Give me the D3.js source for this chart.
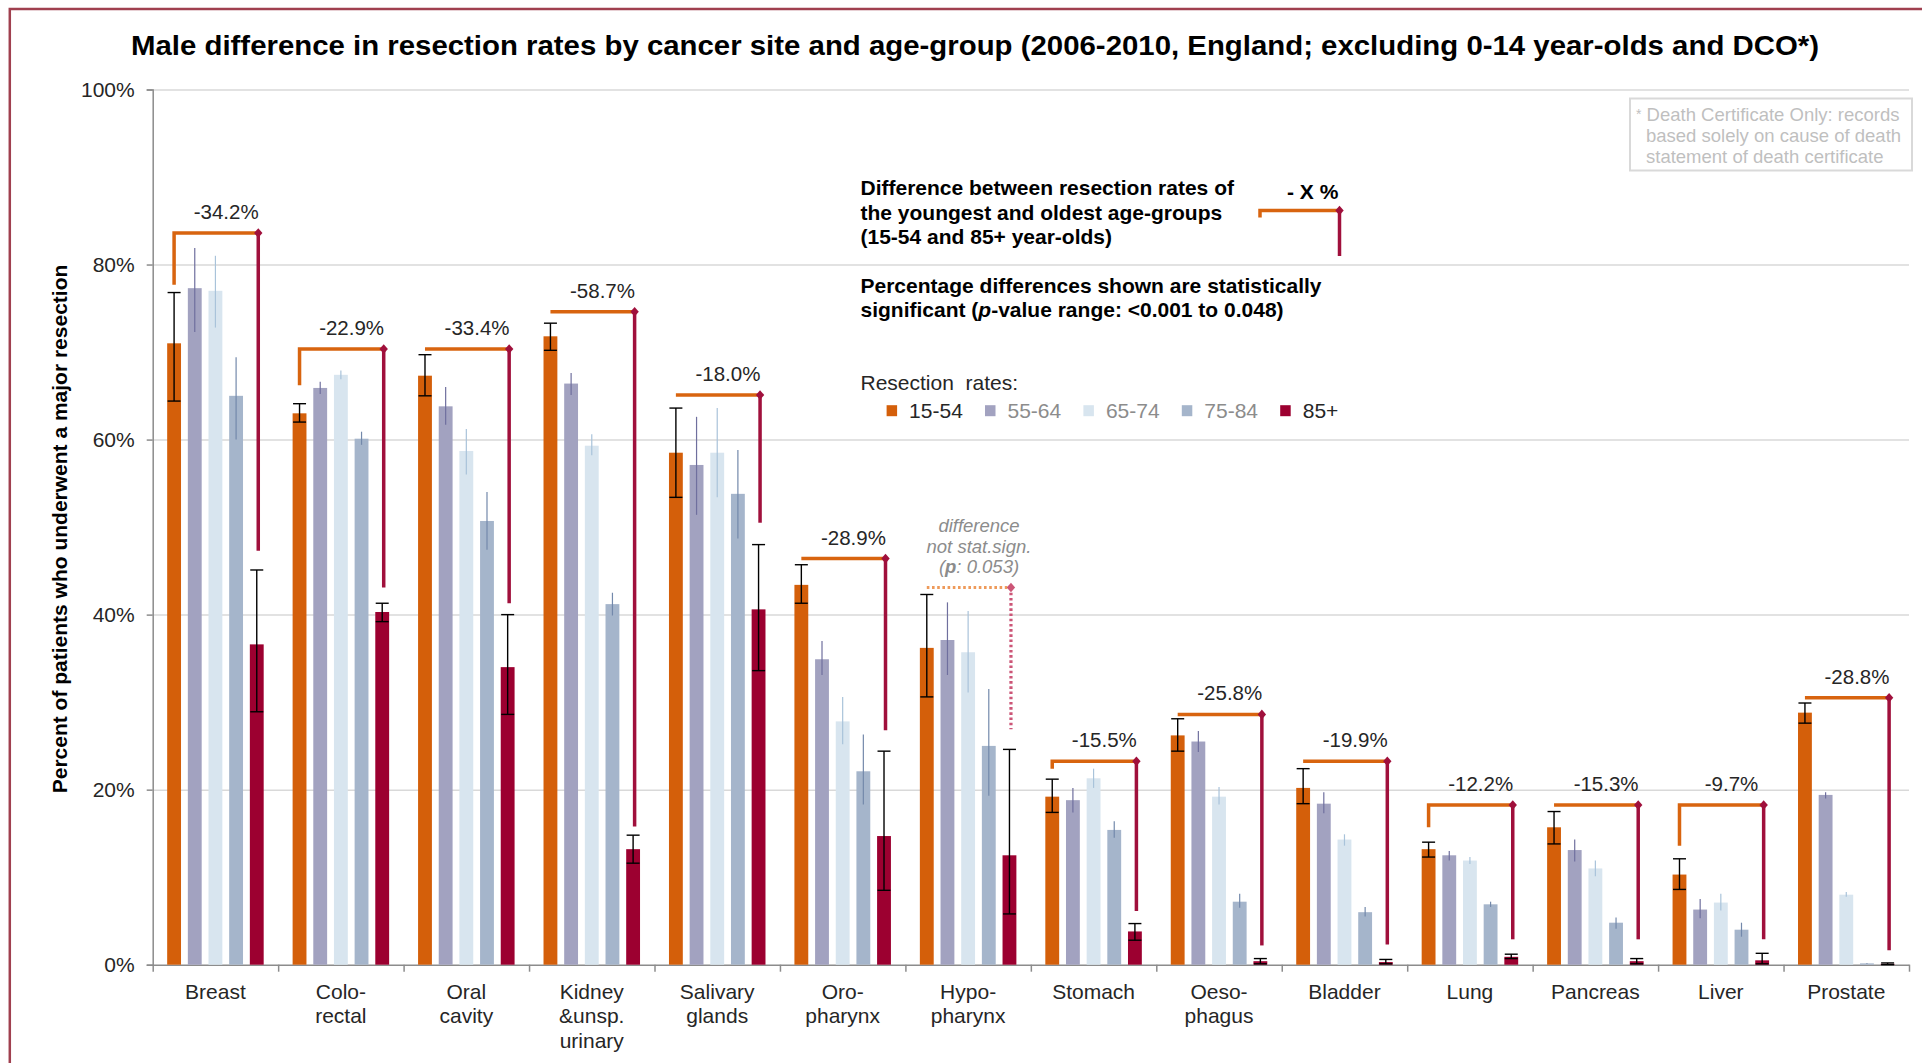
<!DOCTYPE html>
<html>
<head>
<meta charset="utf-8">
<script src="https://cdn.jsdelivr.net/npm/d3@7"></script>
<style>
  body { margin: 0; background: #fff; }
  svg text { font-family: "Liberation Sans", Arial, sans-serif; }
</style>
</head>
<body>
<div id="chart"></div>
<script>

// Cancer sites (multi-line axis labels)
const sites = [
    ["Breast"], ["Colo-", "rectal"], ["Oral", "cavity"], ["Kidney", "&unsp.", "urinary"],
    ["Salivary", "glands"], ["Oro-", "pharynx"], ["Hypo-", "pharynx"], ["Stomach"],
    ["Oeso-", "phagus"], ["Bladder"], ["Lung"], ["Pancreas"], ["Liver"], ["Prostate"]
];

const ageGroups = ["15-54", "55-64", "65-74", "75-84", "85+"];

// resection rates (%) per age group, one value per site
const rate1554 = [71.0, 63.0, 67.3, 71.8, 58.5, 43.4, 36.2, 19.2, 26.2, 20.2, 13.2, 15.7, 10.3, 28.8];
const rate5564 = [77.3, 65.9, 63.8, 66.4, 57.1, 34.9, 37.1, 18.8, 25.5, 18.4, 12.5, 13.1, 6.3, 19.4];
const rate6574 = [77.0, 67.4, 58.7, 59.3, 58.5, 27.8, 35.7, 21.3, 19.2, 14.3, 11.9, 11.0, 7.1, 8.0];
const rate7584 = [65.0, 60.1, 50.7, 41.2, 53.8, 22.1, 25.0, 15.4, 7.2, 6.0, 6.9, 4.8, 4.0, 0.15];
const rate85 = [36.6, 40.3, 34.0, 13.2, 40.6, 14.7, 12.5, 3.8, 0.4, 0.3, 0.9, 0.4, 0.5, 0.1];

// confidence intervals
const lo1554 = [64.4, 62.0, 65.0, 70.2, 53.4, 41.3, 30.6, 17.4, 24.4, 18.4, 12.3, 13.8, 8.6, 27.6];
const hi1554 = [76.8, 64.1, 69.7, 73.3, 63.6, 45.7, 42.3, 21.2, 28.1, 22.4, 14.0, 17.5, 12.1, 29.9];
const lo5564 = [72.3, 65.2, 61.7, 65.1, 51.4, 33.1, 33.1, 17.4, 24.3, 17.3, 11.9, 11.8, 5.3, 19.0];
const hi5564 = [81.9, 66.6, 66.0, 67.6, 62.6, 37.0, 41.4, 20.2, 26.7, 19.7, 13.0, 14.3, 7.5, 19.7];
const lo6574 = [72.8, 66.9, 56.0, 58.2, 53.4, 25.2, 31.1, 20.2, 18.3, 13.6, 11.5, 10.1, 6.2, 7.75];
const hi6574 = [81.0, 67.9, 61.2, 60.6, 63.6, 30.6, 40.4, 22.4, 20.3, 14.9, 12.3, 11.9, 8.1, 8.3];
const lo7584 = [60.0, 59.4, 47.4, 39.9, 48.7, 18.3, 19.3, 14.5, 6.5, 5.5, 6.6, 4.1, 3.2, 0.1];
const hi7584 = [69.4, 60.9, 54.0, 42.5, 58.8, 26.3, 31.5, 16.4, 8.1, 6.6, 7.2, 5.4, 4.8, 0.2];
const lo85 = [28.9, 39.2, 28.6, 11.6, 33.6, 8.5, 5.8, 2.8, 0.1, 0.1, 0.7, 0.1, 0.1, 0.0];
const hi85 = [45.1, 41.3, 40.0, 14.8, 48.0, 24.4, 24.6, 4.7, 0.7, 0.6, 1.2, 0.7, 1.3, 0.2];

// difference brackets between youngest and oldest group
const diffLabels = ["-34.2%", "-22.9%", "-33.4%", "-58.7%", "-18.0%", "-28.9%", "", "-15.5%", "-25.8%", "-19.9%", "-12.2%", "-15.3%", "-9.7%", "-28.8%"];
const bracketTop = [83.6, 70.35, 70.35, 74.6, 65.1, 46.4, 43.1, 23.25, 28.6, 23.25, 18.25, 18.25, 18.25, 30.5];
const bracketLeftEnd = [77.7, 66.2, 70.35, 74.6, 65.1, 46.4, 43.1, 22.4, 28.6, 23.25, 15.7, 18.25, 13.6, 30.5];
const bracketRightEnd = [47.3, 43.1, 41.3, 15.8, 50.5, 26.8, 26.9, 6.15, 2.2, 2.3, 2.9, 2.9, 2.9, 1.65];
const significant = [true, true, true, true, true, true, false, true, true, true, true, true, true, true];

const yTicks = [0, 20, 40, 60, 80, 100];

const rates = [rate1554, rate5564, rate6574, rate7584, rate85];
const lows = [lo1554, lo5564, lo6574, lo7584, lo85];
const highs = [hi1554, hi5564, hi6574, hi7584, hi85];

const barColors = ["#d45f0a", "#a2a2c0", "#d8e5ef", "#a5b5cb", "#9c0030"];
const errColors = ["#000000", "#6f6f9e", "#a9c3da", "#7389ab", "#000000"];
const legendTextColors = ["#262626", "#8c8c8c", "#8c8c8c", "#8c8c8c", "#262626"];
const orange = "#d8640f";
const crimson = "#a0103c";

const W = 1922, H = 1063;
const plotLeft = 152.7, plotRight = 1909, plotTop = 89.5, plotBottom = 964.7;

const svg = d3.select("#chart").append("svg")
    .attr("width", W)
    .attr("height", H);

// outer frame
svg.append("path")
    .attr("d", `M9.8,${H} L9.8,9 L${W},9`)
    .attr("fill", "none")
    .attr("stroke", "#a0404f")
    .attr("stroke-width", 2.5);

const x = d3.scaleBand().domain(d3.range(sites.length)).range([plotLeft, plotRight]);
const x1 = d3.scaleBand().domain(d3.range(ageGroups.length)).range([0, x.bandwidth()])
    .paddingInner(0.33).paddingOuter(0.7);
const y = d3.scaleLinear().domain([0, 100]).range([plotBottom, plotTop]);

// gridlines
svg.append("g")
    .attr("transform", `translate(${plotLeft},0)`)
    .call(d3.axisLeft(y).tickValues(yTicks.slice(1)).tickSize(-(plotRight - plotLeft)).tickFormat(""))
    .call(g => g.select(".domain").remove())
    .selectAll("line")
    .attr("stroke", "#d9d9d9")
    .attr("stroke-width", 1.5);

// y axis
const yAxis = svg.append("g")
    .attr("transform", `translate(${plotLeft},0)`)
    .call(d3.axisLeft(y).tickValues(yTicks).tickSize(6).tickPadding(12).tickFormat(d => d + "%"));
yAxis.select(".domain").attr("stroke", "#8c8c8c").attr("stroke-width", 1.5);
yAxis.selectAll("line").attr("stroke", "#8c8c8c").attr("stroke-width", 1.5);
yAxis.selectAll("text")
    .attr("font-size", "21px")
    .attr("fill", "#262626");

// x axis (ticks at band boundaries)
const xEdges = d3.scaleLinear().domain([0, sites.length]).range([plotLeft, plotRight]);
const xAxis = svg.append("g")
    .attr("transform", `translate(0,${plotBottom})`)
    .call(d3.axisBottom(xEdges).tickValues(d3.range(sites.length + 1)).tickSize(7).tickSizeOuter(0).tickFormat(""));
xAxis.select(".domain").attr("stroke", "#8c8c8c").attr("stroke-width", 1.5);
xAxis.selectAll("line").attr("stroke", "#8c8c8c").attr("stroke-width", 1.5);

// category labels
const catLabels = svg.append("g");
sites.forEach((lines, i) => {
    const t = catLabels.append("text")
        .attr("x", x(i) + x.bandwidth() / 2)
        .attr("y", 998.5)
        .attr("text-anchor", "middle")
        .attr("font-size", "21px")
        .attr("fill", "#262626");
    lines.forEach((l, j) => {
        t.append("tspan")
            .attr("x", x(i) + x.bandwidth() / 2)
            .attr("dy", j === 0 ? 0 : 24.5)
            .text(l);
    });
});

// bars
ageGroups.forEach((ag, k) => {
    svg.append("g").selectAll("rect")
        .data(rates[k])
        .join("rect")
        .attr("x", (d, i) => x(i) + x1(k))
        .attr("y", d => y(d))
        .attr("width", x1.bandwidth())
        .attr("height", d => y(0) - y(d))
        .attr("fill", barColors[k]);
});

// error bars
ageGroups.forEach((ag, k) => {
    const g = svg.append("g");
    const withCaps = (k === 0 || k === 4);
    rates[k].forEach((d, i) => {
        const cx = x(i) + x1(k) + x1.bandwidth() / 2;
        g.append("line")
            .attr("x1", cx).attr("x2", cx)
            .attr("y1", y(lows[k][i])).attr("y2", y(highs[k][i]))
            .attr("stroke", errColors[k])
            .attr("stroke-width", withCaps ? 1.4 : 1.2);
        if (withCaps) {
            [lows[k][i], highs[k][i]].forEach(v => {
                g.append("line")
                    .attr("x1", cx - 6.5).attr("x2", cx + 6.5)
                    .attr("y1", y(v)).attr("y2", y(v))
                    .attr("stroke", "#000")
                    .attr("stroke-width", 1.4);
            });
        }
    });
});

const diamond = "M0,-4.8 L4.2,0 L0,4.8 L-4.2,0 Z";

// difference brackets
const brackets = svg.append("g");
sites.forEach((s, i) => {
    const lx = x(i) + x1(0) + x1.bandwidth() / 2;
    const rx = x(i) + x1(4) + x1.bandwidth() / 2 + 1.5;
    const ty = y(bracketTop[i]);
    const sig = significant[i];
    const oCol = sig ? orange : "#ee9a5a";
    const rCol = sig ? crimson : "#cc5577";
    const dash = sig ? null : "2.6,2.6";
    brackets.append("path")
        .attr("d", `M${lx},${y(bracketLeftEnd[i])} L${lx},${ty} L${rx},${ty}`)
        .attr("fill", "none")
        .attr("stroke", oCol)
        .attr("stroke-width", sig ? 3.5 : 3.2)
        .attr("stroke-dasharray", dash);
    brackets.append("line")
        .attr("x1", rx).attr("x2", rx)
        .attr("y1", ty).attr("y2", y(bracketRightEnd[i]))
        .attr("stroke", rCol)
        .attr("stroke-width", sig ? 3.5 : 3.2)
        .attr("stroke-dasharray", dash);
    brackets.append("path")
        .attr("d", diamond)
        .attr("transform", `translate(${rx},${ty})`)
        .attr("fill", rCol);
    if (diffLabels[i]) {
        brackets.append("text")
            .attr("x", (lx + rx) / 2 + 10)
            .attr("y", ty - 14)
            .attr("text-anchor", "middle")
            .attr("font-size", "20.5px")
            .attr("fill", "#262626")
            .text(diffLabels[i]);
    }
});

// note on non-significant difference (Hypo-pharynx)
const ns = svg.append("text")
    .attr("x", 979)
    .attr("y", 532)
    .attr("text-anchor", "middle")
    .attr("font-size", "18.5px")
    .attr("font-style", "italic")
    .attr("fill", "#8c8c8c");
ns.append("tspan").attr("x", 979).attr("dy", 0).text("difference");
ns.append("tspan").attr("x", 979).attr("dy", 20.5).text("not stat.sign.");
const ns3 = ns.append("tspan").attr("x", 979).attr("dy", 20.5);
ns3.append("tspan").text("(");
ns3.append("tspan").attr("font-weight", "bold").text("p");
ns3.append("tspan").text(": 0.053)");

// title
svg.append("text")
    .attr("x", 975)
    .attr("y", 55)
    .attr("text-anchor", "middle")
    .attr("font-size", "28.5px")
    .attr("font-weight", "bold")
    .attr("fill", "#000")
    .attr("textLength", 1688)
    .attr("lengthAdjust", "spacingAndGlyphs")
    .text("Male difference in resection rates by  cancer site and age-group (2006-2010, England; excluding 0-14 year-olds and DCO*)");

// y axis title
svg.append("text")
    .attr("transform", `translate(67,529) rotate(-90)`)
    .attr("text-anchor", "middle")
    .attr("font-size", "21px")
    .attr("font-weight", "bold")
    .attr("fill", "#000")
    .text("Percent of patients who underwent a major resection");

// explanation block
const expl = svg.append("g")
    .attr("font-size", "21px")
    .attr("font-weight", "bold")
    .attr("fill", "#000")
    .style("white-space", "pre");
["Difference  between resection rates of", "the youngest and oldest age-groups", "(15-54 and 85+ year-olds)"]
    .forEach((l, j) => {
        expl.append("text").attr("x", 860.5).attr("y", 195 + j * 24.5).text(l);
    });
expl.append("text").attr("x", 860.5).attr("y", 292.5).text("Percentage differences  shown are statistically");
const sigLine = expl.append("text").attr("x", 860.5).attr("y", 317);
sigLine.append("tspan").text("significant  (");
sigLine.append("tspan").attr("font-style", "italic").text("p");
sigLine.append("tspan").text("-value  range: <0.001 to 0.048)");

// bracket key
expl.append("text").attr("x", 1287).attr("y", 198.5).text("- X %");
svg.append("path")
    .attr("d", "M1260,217.5 L1260,210.5 L1339.5,210.5")
    .attr("fill", "none").attr("stroke", orange).attr("stroke-width", 3.5);
svg.append("line")
    .attr("x1", 1339.5).attr("x2", 1339.5).attr("y1", 210.5).attr("y2", 256)
    .attr("stroke", crimson).attr("stroke-width", 3.5);
svg.append("path").attr("d", diamond).attr("transform", "translate(1339.5,210.5)").attr("fill", crimson);

// legend
svg.append("text")
    .attr("x", 860.5).attr("y", 390)
    .attr("font-size", "21px")
    .attr("fill", "#262626")
    .style("white-space", "pre")
    .text("Resection  rates:");
const legend = svg.append("g").selectAll("g")
    .data(ageGroups)
    .join("g")
    .attr("transform", (d, i) => `translate(${886.6 + i * 98.4},410.7)`);
legend.append("rect")
    .attr("x", 0).attr("y", -5.5)
    .attr("width", 10.5).attr("height", 11)
    .attr("fill", (d, i) => barColors[i]);
legend.append("text")
    .attr("x", 22.5).attr("y", 7.5)
    .attr("font-size", "21px")
    .attr("fill", (d, i) => legendTextColors[i])
    .text(d => d);

// DCO footnote box
svg.append("rect")
    .attr("x", 1630).attr("y", 98.5)
    .attr("width", 282).attr("height", 72)
    .attr("fill", "#fff")
    .attr("stroke", "#d9d9d9")
    .attr("stroke-width", 2);
const foot = svg.append("g").attr("font-size", "18.5px").attr("fill", "#bfbfbf");
const f1 = foot.append("text").attr("x", 1636).attr("y", 120.5);
f1.append("tspan").attr("font-size", "14px").attr("dy", -2).text("*");
f1.append("tspan").attr("dy", 2).text(" Death Certificate Only: records");
foot.append("text").attr("x", 1646).attr("y", 141.5).text("based solely on cause of death");
foot.append("text").attr("x", 1646).attr("y", 162.5).text("statement of death certificate");

</script>
</body>
</html>
